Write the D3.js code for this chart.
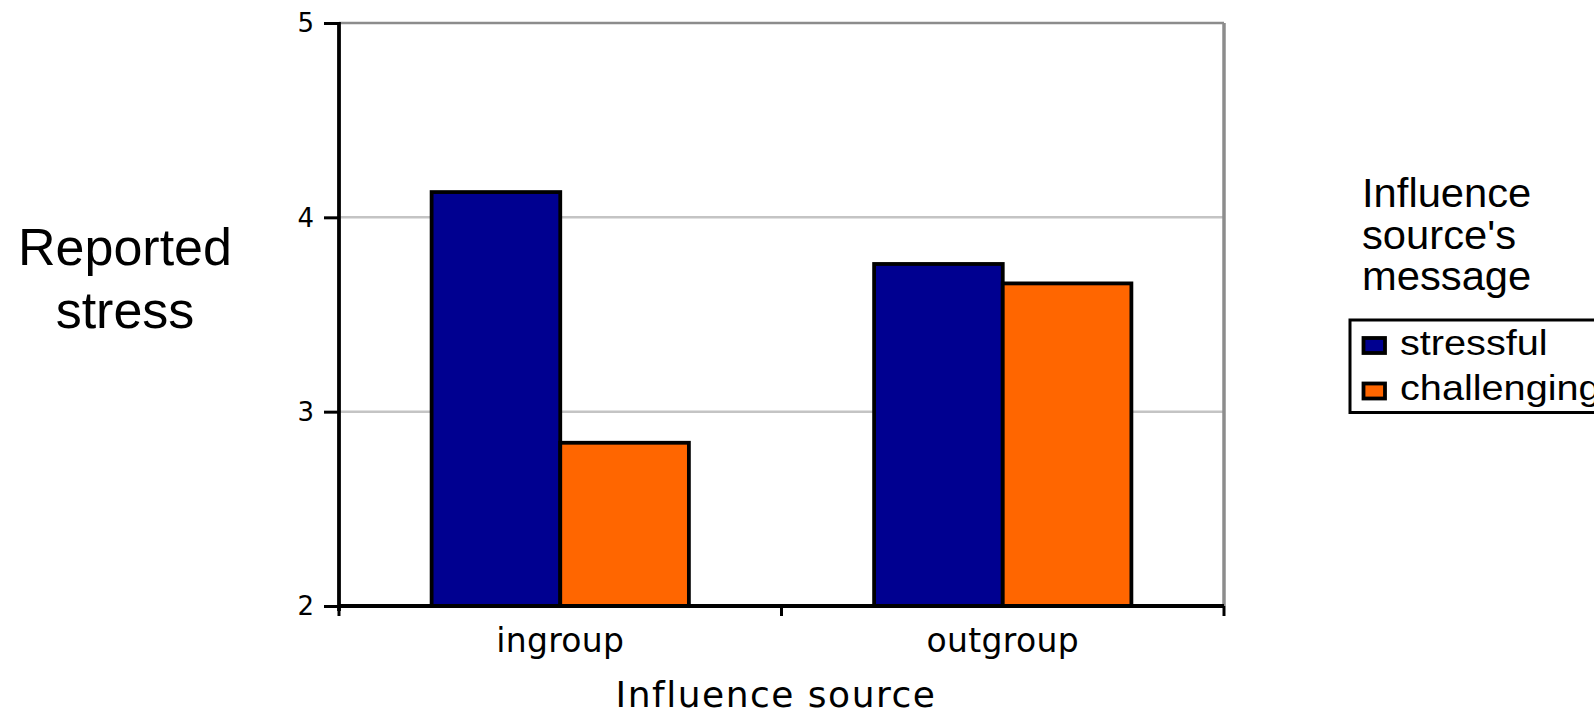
<!DOCTYPE html>
<html>
<head>
<meta charset="utf-8">
<script src="https://cdn.jsdelivr.net/npm/d3@7"></script>
<style>
  html, body { margin: 0; padding: 0; background: #ffffff; }
  svg { display: block; }
  .ylab { font-family: "DejaVu Sans"; font-size: 26px; }
</style>
</head>
<body>
<script>
// Reported stress by influence source and message type
const categories = ["ingroup", "outgroup"];
const seriesNames = ["stressful", "challenging"];
const stressful = [4.13, 3.76];
const challenging = [2.84, 3.66];
const yTicks = [2, 3, 4, 5];
const seriesColors = ["#000090", "#ff6600"];
const yTitleLines = ["Reported", "stress"];
const xTitle = "Influence source";
const legendTitleLines = ["Influence", "source's", "message"];

const W = 1594, H = 711;
const plot = { left: 339, right: 1224, top: 23, bottom: 606 };

const svg = d3.select("body").append("svg")
  .attr("width", W).attr("height", H);
svg.append("rect").attr("width", W).attr("height", H).attr("fill", "#fff");

const y = d3.scaleLinear().domain([2, 5]).range([plot.bottom, plot.top]);
const x0 = d3.scaleBand().domain(categories).range([plot.left, plot.right]).padding(0);
const x1 = d3.scaleBand().domain(seriesNames).range([0, x0.bandwidth()])
  .paddingInner(0).paddingOuter(0.72);

const rows = categories.map((c, i) => ({
  category: c,
  values: [
    { series: seriesNames[0], value: stressful[i] },
    { series: seriesNames[1], value: challenging[i] }
  ]
}));
const color = d3.scaleOrdinal().domain(seriesNames).range(seriesColors);

// horizontal gridlines
svg.append("g").selectAll("line")
  .data(yTicks.filter(t => t > 2 && t < 5))
  .join("line")
  .attr("x1", plot.left).attr("x2", plot.right)
  .attr("y1", d => y(d)).attr("y2", d => y(d))
  .attr("stroke", "#c4c4c4").attr("stroke-width", 2.5);

// plot frame (top and right)
svg.append("line")
  .attr("x1", plot.left).attr("x2", plot.right)
  .attr("y1", y(5)).attr("y2", y(5))
  .attr("stroke", "#8c8c8c").attr("stroke-width", 2.5);
svg.append("line")
  .attr("x1", plot.right).attr("x2", plot.right)
  .attr("y1", y(5)).attr("y2", y(2))
  .attr("stroke", "#8c8c8c").attr("stroke-width", 3.5);

// bars
svg.append("g").selectAll("g")
  .data(rows)
  .join("g")
  .attr("transform", d => `translate(${x0(d.category)},0)`)
  .selectAll("rect")
  .data(d => d.values)
  .join("rect")
  .attr("x", d => x1(d.series))
  .attr("y", d => y(d.value))
  .attr("width", x1.bandwidth())
  .attr("height", d => y(2) - y(d.value))
  .attr("fill", d => color(d.series))
  .attr("stroke", "#000")
  .attr("stroke-width", 3.8);

// y axis: ticks from the axis generator, labels set explicitly
const yAxis = svg.append("g")
  .attr("transform", `translate(${plot.left},0)`)
  .call(d3.axisLeft(y).tickValues(yTicks).tickFormat("").tickSize(15));
yAxis.select(".domain").remove();
yAxis.selectAll(".tick text").remove();
yAxis.selectAll(".tick line").attr("stroke", "#000").attr("stroke-width", 3);
svg.append("g").selectAll("text")
  .data(yTicks)
  .join("text")
  .attr("class", "ylab")
  .attr("x", 314)
  .attr("y", d => y(d))
  .attr("dy", "0.36em")
  .attr("text-anchor", "end")
  .attr("fill", "#000")
  .text(d3.format("d"));
svg.append("line")
  .attr("x1", plot.left).attr("x2", plot.left)
  .attr("y1", y(5) - 1).attr("y2", y(2) + 5)
  .attr("stroke", "#000").attr("stroke-width", 3.8);

// x axis baseline, boundary ticks and category labels
svg.append("line")
  .attr("x1", plot.left).attr("x2", plot.right)
  .attr("y1", y(2)).attr("y2", y(2))
  .attr("stroke", "#000").attr("stroke-width", 3.8);
const boundaries = [x0(categories[0])].concat(categories.map(c => x0(c) + x0.bandwidth()));
svg.append("g").selectAll("line")
  .data(boundaries)
  .join("line")
  .attr("x1", d => d).attr("x2", d => d)
  .attr("y1", y(2)).attr("y2", y(2) + 10)
  .attr("stroke", "#000").attr("stroke-width", 3);
svg.append("g").selectAll("text")
  .data(categories)
  .join("text")
  .attr("x", d => x0(d) + x0.bandwidth() / 2)
  .attr("y", 652)
  .attr("text-anchor", "middle")
  .style("font-family", "DejaVu Sans").style("font-size", "33px")
  .attr("letter-spacing", 0.3)
  .attr("fill", "#000")
  .text(d => d);

// axis titles
svg.append("text")
  .attr("x", 776).attr("y", 707)
  .attr("text-anchor", "middle")
  .style("font-family", "DejaVu Sans").style("font-size", "36px")
  .attr("letter-spacing", 1.5)
  .attr("fill", "#000")
  .text(xTitle);
svg.append("g").selectAll("text")
  .data(yTitleLines)
  .join("text")
  .attr("x", 125).attr("y", (d, i) => 265 + i * 63)
  .attr("text-anchor", "middle")
  .style("font-family", "Liberation Sans").style("font-size", "52px")
  .attr("fill", "#000")
  .text(d => d);

// legend
const legendTitle = svg.append("g").attr("transform", "translate(1362,0)");
legendTitle.selectAll("text")
  .data(legendTitleLines)
  .join("text")
  .attr("transform", (d, i) => `translate(0,${207 + i * 41.5}) scale(1.03,1)`)
  .style("font-family", "Liberation Sans").style("font-size", "40.5px")
  .attr("fill", "#000")
  .text(d => d);

svg.append("rect")
  .attr("x", 1350).attr("y", 320).attr("width", 300).attr("height", 92.5)
  .attr("fill", "#fff").attr("stroke", "#000").attr("stroke-width", 3);

const legendItems = svg.append("g").selectAll("g")
  .data(seriesNames)
  .join("g")
  .attr("transform", (d, i) => `translate(0,${i * 45.5})`);
legendItems.append("rect")
  .attr("x", 1363.5).attr("y", 338).attr("width", 21.5).attr("height", 15)
  .attr("fill", d => color(d))
  .attr("stroke", "#000").attr("stroke-width", 3.8);
legendItems.append("text")
  .attr("transform", "translate(1400,354.5) scale(1.15,1)")
  .style("font-family", "Liberation Sans").style("font-size", "34.5px")
  .attr("fill", "#000")
  .text(d => d);
</script>
</body>
</html>
